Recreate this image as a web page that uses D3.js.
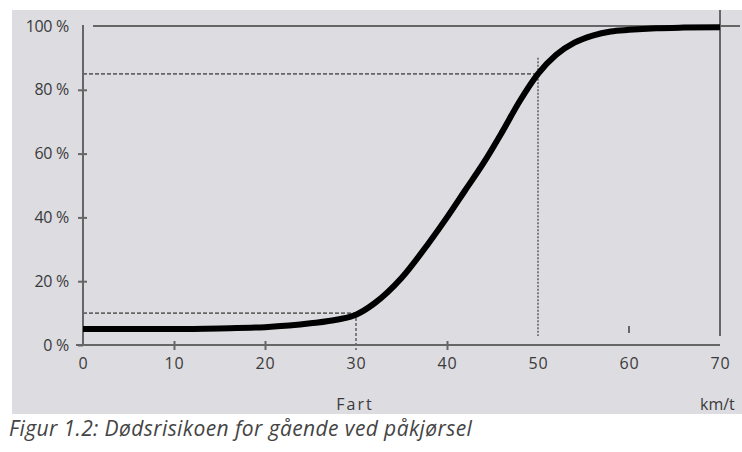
<!DOCTYPE html>
<html><head><meta charset="utf-8">
<script src="https://cdn.jsdelivr.net/npm/d3@7"></script>
<style>html,body{margin:0;padding:0;background:#fff;}svg{display:block;}</style>
</head><body>
<svg id="c" width="742" height="452"></svg>
<script>
const speed = [0,5,10,15,20,25,28,30,32,35,38,40,42,44,46,48,50,52,54,56,58,60,63,66,70];
const risk  = [5,5,5,5.2,5.6,6.8,8,9.5,13,21,32,40,48.5,57,66.5,76.5,85,91,94.8,97,98.3,98.8,99.3,99.5,99.6];
const xTicks = [0,10,20,30,40,50,60,70];
const yTicks = [0,20,40,60,80,100];
const refPoints = [{speed:30, risk:10}, {speed:50, risk:85}];
const xLabel = "Fart", unitLabel = "km/t";
const caption = "Figur 1.2: Dødsrisikoen for gående ved påkjørsel";

const svg = d3.select("#c");
const x = d3.scaleLinear().domain([0,70]).range([83,720]);
const y = d3.scaleLinear().domain([0,100]).range([345,26]);
const axisCol = "#666", textCol = "#3a3a3a", font = "'Open Sans', sans-serif";

svg.append("rect").attr("x",12).attr("y",10).attr("width",730).attr("height",404).attr("fill","#dddce1");

// frame lines
svg.append("line").attr("x1",x(0)+10).attr("x2",740).attr("y1",y(100)).attr("y2",y(100)).attr("stroke",axisCol).attr("stroke-width",2);
svg.append("line").attr("x1",x(70)).attr("x2",x(70)).attr("y1",10).attr("y2",y(0)-9).attr("stroke",axisCol).attr("stroke-width",2);

// y axis
const ya = svg.append("g").attr("transform",`translate(${x(0)},0)`)
  .call(d3.axisLeft(y).tickValues(yTicks).tickFormat(d=>d+" %").tickSize(5).tickPadding(9));
ya.select(".domain").remove();
ya.selectAll(".tick line").attr("x1",-5).attr("x2",d=>d===0?0:4).attr("stroke",axisCol).attr("stroke-width",2)
  .attr("display",d=>d===100?"none":null);
ya.selectAll(".tick text").attr("fill",textCol).style("font-family",font).style("font-size","16px").attr("letter-spacing","-0.3px");
svg.append("line").attr("x1",x(0)).attr("x2",x(0)).attr("y1",y(100)-1).attr("y2",y(0)).attr("stroke",axisCol).attr("stroke-width",2);

// x axis
const xa = svg.append("g").attr("transform",`translate(0,${y(0)})`)
  .call(d3.axisBottom(x).tickValues(xTicks).tickSize(5).tickPadding(8));
xa.select(".domain").remove();
xa.selectAll(".tick line").attr("y1",-4).attr("y2",5).attr("stroke",axisCol).attr("stroke-width",2)
  .attr("display",d=>[10,20,40].includes(d)?null:"none");
xa.selectAll(".tick text").attr("fill",textCol).style("font-family",font).style("font-size","16px").attr("letter-spacing","0.8px");
svg.append("line").attr("x1",x(0)-7).attr("x2",x(70)).attr("y1",y(0)).attr("y2",y(0)).attr("stroke",axisCol).attr("stroke-width",2);
svg.append("line").attr("x1",x(60)).attr("x2",x(60)).attr("y1",y(0)-19).attr("y2",y(0)-12).attr("stroke",axisCol).attr("stroke-width",2);

// reference dashed lines
const dash = "4,2";
svg.append("line").attr("x1",x(0)).attr("x2",x(refPoints[0].speed)).attr("y1",y(refPoints[0].risk)).attr("y2",y(refPoints[0].risk))
  .attr("stroke",axisCol).attr("stroke-width",1.6).attr("stroke-dasharray",dash);
svg.append("line").attr("x1",x(refPoints[0].speed)).attr("x2",x(refPoints[0].speed)).attr("y1",y(refPoints[0].risk)).attr("y2",y(0)+5)
  .attr("stroke",axisCol).attr("stroke-width",1.6).attr("stroke-dasharray","3,2");
svg.append("line").attr("x1",x(0)).attr("x2",x(refPoints[1].speed)).attr("y1",y(refPoints[1].risk)).attr("y2",y(refPoints[1].risk))
  .attr("stroke",axisCol).attr("stroke-width",1.6).attr("stroke-dasharray",dash);
svg.append("line").attr("x1",x(refPoints[1].speed)).attr("x2",x(refPoints[1].speed)).attr("y1",y(refPoints[1].risk)-16).attr("y2",y(0)-9)
  .attr("stroke",axisCol).attr("stroke-width",1.6).attr("stroke-dasharray","2,1.5");

// curve
const data = speed.map((s,i)=>({s, r:risk[i]}));
svg.append("path").datum(data)
  .attr("d", d3.line().x(d=>x(d.s)).y(d=>y(d.r)).curve(d3.curveMonotoneX))
  .attr("fill","none").attr("stroke","#000").attr("stroke-width",6).attr("stroke-linecap","butt");

// labels
svg.append("text").attr("x",x(30)-1).attr("y",410).attr("text-anchor","middle").attr("fill",textCol)
  .style("font-family",font).style("font-size","16px").attr("letter-spacing","2px").text(xLabel);
svg.append("text").attr("x",700).attr("y",410).attr("fill",textCol)
  .style("font-family",font).style("font-size","16px").text(unitLabel);
svg.append("text").attr("x",9).attr("y",436).attr("fill","#444")
  .style("font-family",font).style("font-size","21px").style("font-style","italic").attr("letter-spacing","0.4px").text(caption);
</script>
</body></html>
